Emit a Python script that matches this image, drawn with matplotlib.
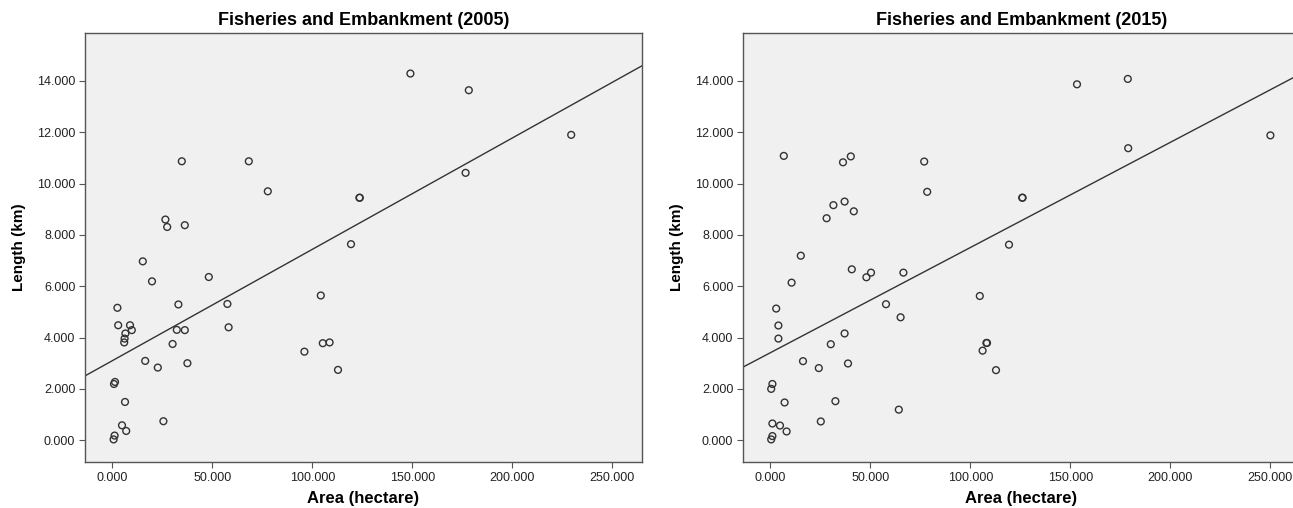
import numpy as np
import matplotlib
matplotlib.use("Agg")
import matplotlib.pyplot as plt
from matplotlib.ticker import FormatStrFormatter

plt.rcParams['font.family'] = ['Liberation Sans', 'DejaVu Sans']

# 2005: area (hectare) vs length (km)
area_2005 = [149.0, 178.2, 229.4, 176.6, 34.7, 68.2, 77.7, 123.5, 123.7, 26.5,
             27.4, 36.2, 119.3, 15.2, 19.8, 48.2, 104.2, 2.5, 33.0, 57.5,
             58.1, 2.9, 8.8, 9.7, 6.5, 6.1, 5.9, 32.2, 36.2, 30.1,
             96.0, 105.2, 108.6, 112.8, 16.4, 22.7, 37.5, 1.3, 0.8, 6.3,
             25.5, 4.8, 6.9, 1.1, 0.6]
length_2005 = [14.29, 13.64, 11.90, 10.42, 10.87, 10.87, 9.70, 9.45, 9.45, 8.60,
               8.31, 8.38, 7.64, 6.97, 6.19, 6.36, 5.64, 5.16, 5.29, 5.31,
               4.40, 4.48, 4.48, 4.29, 4.16, 3.96, 3.81, 4.30, 4.29, 3.75,
               3.45, 3.78, 3.81, 2.74, 3.09, 2.83, 3.00, 2.27, 2.19, 1.49,
               0.74, 0.58, 0.36, 0.18, 0.03]

# 2015
area_2015 = [153.3, 178.7, 250.0, 178.9, 6.7, 40.2, 36.3, 76.9, 78.4, 125.9,
             126.1, 31.5, 37.1, 41.7, 28.1, 119.3, 15.2, 40.7, 50.3, 48.0,
             66.5, 10.6, 104.7, 2.9, 57.8, 65.1, 4.0, 4.0, 37.1, 30.2,
             108.0, 108.3, 106.1, 112.8, 16.3, 24.2, 38.8, 1.0, 0.4, 7.1,
             32.5, 64.2, 25.2, 1.0, 4.8, 8.1, 1.0, 0.4]
length_2015 = [13.87, 14.08, 11.88, 11.38, 11.08, 11.06, 10.83, 10.86, 9.68, 9.45,
               9.45, 9.16, 9.30, 8.92, 8.65, 7.62, 7.19, 6.66, 6.53, 6.35,
               6.53, 6.14, 5.62, 5.13, 5.30, 4.79, 4.47, 3.96, 4.16, 3.74,
               3.79, 3.79, 3.49, 2.73, 3.08, 2.81, 2.99, 2.19, 2.00, 1.47,
               1.52, 1.19, 0.73, 0.65, 0.57, 0.34, 0.16, 0.03]

# fit lines (intercept, slope) as drawn in the reference
fit_2005 = (3.10, 0.0434)
fit_2015 = (3.41, 0.0410)

fig = plt.figure(figsize=(12.93, 5.08), dpi=100)
W, H = 1293, 508

panels = [
    (85, area_2005, length_2005, fit_2005, 'Fisheries and Embankment (2005)'),
    (743, area_2015, length_2015, fit_2015, 'Fisheries and Embankment (2015)'),
]

for left, xs, ys, fit, title in panels:
    ax = fig.add_axes([left / W, (H - 462) / H, 557 / W, 429 / H])
    ax.set_facecolor('#f0f0f0')
    ax.set_xlim(-13.7, 264.8)
    ax.set_ylim(-0.85, 15.87)

    ax.scatter(xs, ys, s=24, facecolors='none', edgecolors='#333333',
               linewidths=1.0, zorder=3)

    xl = np.array(ax.get_xlim())
    ax.plot(xl, fit[0] + fit[1] * xl, color='#333333', lw=1.0, zorder=2)

    ax.set_xticks([0, 50, 100, 150, 200, 250])
    ax.set_yticks(np.arange(0, 15, 2))
    ax.xaxis.set_major_formatter(FormatStrFormatter('%.3f'))
    ax.yaxis.set_major_formatter(FormatStrFormatter('%.3f'))
    ax.tick_params(labelsize=9, length=4, width=0.8, color='#555555',
                   labelcolor='#222222', direction='out', pad=3)
    for sp in ax.spines.values():
        sp.set_color('#555555')
        sp.set_linewidth(1.0)

    ax.set_title(title, fontsize=13, fontweight='bold', pad=6)
    ax.set_xlabel('Area (hectare)', fontsize=12, fontweight='bold')
    ax.xaxis.set_label_coords(0.5, (462 - 498) / 429)
    ax.xaxis.label.set_va('center')
    ax.set_ylabel('Length (km)', fontsize=11, fontweight='bold', labelpad=8)

fig.savefig('out.png', dpi=100)
